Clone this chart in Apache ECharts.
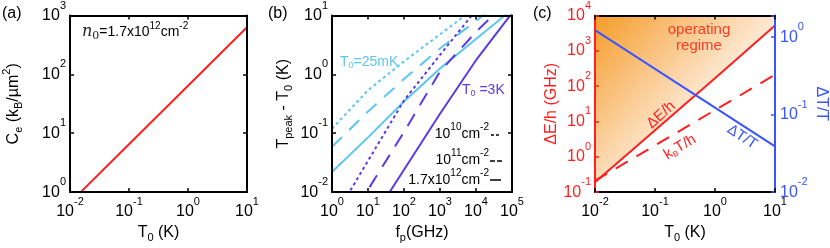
<!DOCTYPE html>
<html><head><meta charset="utf-8">
<script src="https://cdn.jsdelivr.net/npm/echarts@6/dist/echarts.min.js"></script>
<style>html,body{margin:0;padding:0;background:#fff}#c{width:830px;height:248px}</style>
</head><body><div id="c"></div>
<script>
// ---------- data ----------
// Panel (a): heat capacity vs T0
const aT  = [0.0152, 0.1, 1, 10];
const aCe = [1, 6.5, 64, 630];

// Panel (b): Tpeak - T0 vs fp
const bF = [1, 10, 100, 1000, 10000, 100000];
const b25mK_n17e12 = [0.0219, 0.0851, 0.347, 1.26, 3.98, 12.6];
const b25mK_n1e11  = [0.0589, 0.234, 0.832, 2.75, 8.13, 22.9];
const b25mK_n1e10  = [0.119, 0.537, 1.66, 4.79, 13.8, 40];
const b3K_n17e12   = [0.0003, 0.00269, 0.024, 0.214, 1.74, 11.0];
const b3K_n1e11    = [0.0011, 0.011, 0.105, 1.12, 5.25, 21];
const b3K_n1e10    = [0.0032, 0.034, 0.36, 2.14, 12.3, 40];

// Panel (c)
const cT   = [0.01, 0.1, 1, 10];
const cDE  = [0.19, 5.6, 166, 5250];
const cKT  = [0.21, 2.1, 21, 210];
const cDTT = [1.23, 0.39, 0.123, 0.039];

// ---------- styles ----------
const FONT = '"Liberation Sans", Arial, sans-serif';
const RED = '#ff1f1f', LBLUE = '#5cc6f2', PURPLE = '#5a3ce4', BLUE = '#3a55ff', BLACK = '#000';

function powLabel(v) {
  const l = Math.log10(v), e = Math.round(l);
  if (Math.abs(l - e) > 1e-6) return '';
  return '{b|10}{s|' + e + '}';
}
function tickRich(color) {
  return {
    b: {fontSize: 16, fontFamily: FONT, color: color, verticalAlign: 'middle'},
    s: {fontSize: 11, fontFamily: FONT, color: color, verticalAlign: 'middle', padding: [0, 0, 20, 0]}
  };
}
function nameRich(color) {
  return {
    n: {fontSize: 16, fontFamily: FONT, color: color, verticalAlign: 'middle'},
    sub: {fontSize: 11, fontFamily: FONT, color: color, verticalAlign: 'middle', padding: [10, 0, 0, 0]},
    sup: {fontSize: 11, fontFamily: FONT, color: color, verticalAlign: 'middle', padding: [0, 0, 14, 0]}
  };
}
function axis(kind, grid, min, max, o) {
  o = o || {};
  const color = o.color || BLACK;
  const ax = {
    type: 'log', logBase: 10, gridIndex: grid, min: min, max: max,
    position: o.position,
    axisLine: {show: true, onZero: false, lineStyle: {color: color, width: 2}},
    axisTick: {show: true, inside: true, length: 4, lineStyle: {color: color, width: 1.5}},
    axisLabel: {show: !!o.labels, formatter: powLabel, rich: tickRich(color), margin: o.margin || 4},
    splitLine: {show: false}, minorTick: {show: false}, z: 5
  };
  if (o.name) {
    ax.name = o.name; ax.nameLocation = 'middle'; ax.nameGap = o.nameGap;
    ax.nameTextStyle = {fontSize: 16, fontFamily: FONT, color: color, rich: nameRich(color)};
    if (o.nameRotate !== undefined) ax.nameRotate = o.nameRotate;
  }
  return ax;
}
const pairs = (xs, ys) => xs.map((x, i) => [x, ys[i]]);
function line(xi, yi, xs, ys, color, type, extra) {
  return Object.assign({
    type: 'line', xAxisIndex: xi, yAxisIndex: yi, data: pairs(xs, ys),
    symbol: 'none', clip: true, silent: true,
    lineStyle: {color: color, width: 2, type: type || 'solid'}
  }, extra || {});
}

const chart = echarts.init(document.getElementById('c'), null, {renderer: 'canvas'});
const DASH = [14, 10], DOT = [3, 3];

const graphics = [
    {type: 'text', left: 2, top: 6, style: {text: '(a)', fontSize: 16, fontFamily: FONT, fill: BLACK}},
    {type: 'text', left: 268, top: 6, style: {text: '(b)', fontSize: 16, fontFamily: FONT, fill: BLACK}},
    {type: 'text', left: 533, top: 6, style: {text: '(c)', fontSize: 16, fontFamily: FONT, fill: BLACK}},
    {type: 'text', x: 82, y: 32, style: {text: '{i|n}{s|0}{n|=1.7x10}{p|12}{n|cm}{p|-2}', verticalAlign: 'middle',
      rich: {
        i: {fontSize: 16, fontFamily: '"DejaVu Serif", serif', fontStyle: 'italic', fill: '#222', verticalAlign: 'middle'},
        s: {fontSize: 11, fontFamily: '"DejaVu Serif", serif', fill: '#222', verticalAlign: 'middle', padding: [8, 0, 0, 0]},
        n: {fontSize: 14, fontFamily: FONT, fill: BLACK, verticalAlign: 'middle'},
        p: {fontSize: 10, fontFamily: FONT, fill: BLACK, verticalAlign: 'middle', padding: [0, 0, 12, 0]}
      }}},
    // panel b annotations
    {type: 'text', x: 340, y: 62, style: {text: '{n|T}{s|0}{n|=25mK}', verticalAlign: 'middle',
      rich: {n: {fontSize: 14, fontFamily: FONT, fill: LBLUE, verticalAlign: 'middle'},
             s: {fontSize: 9, fontFamily: FONT, fill: LBLUE, verticalAlign: 'middle', padding: [8, 0, 0, 0]}}}},
    {type: 'text', x: 462, y: 90, style: {text: '{n|T}{s|0}{n| =3K}', verticalAlign: 'middle',
      rich: {n: {fontSize: 14, fontFamily: FONT, fill: PURPLE, verticalAlign: 'middle'},
             s: {fontSize: 9, fontFamily: FONT, fill: PURPLE, verticalAlign: 'middle', padding: [8, 0, 0, 0]}}}},
    {type: 'text', x: 489, y: 134, style: {text: '{n|10}{p|10}{n|cm}{p|-2}', align: 'right', verticalAlign: 'middle',
      rich: {n: {fontSize: 14, fontFamily: FONT, fill: BLACK, verticalAlign: 'middle'},
             p: {fontSize: 10, fontFamily: FONT, fill: BLACK, verticalAlign: 'middle', padding: [0, 0, 14, 0]}}}},
    {type: 'text', x: 489, y: 160, style: {text: '{n|10}{p|11}{n|cm}{p|-2}', align: 'right', verticalAlign: 'middle',
      rich: {n: {fontSize: 14, fontFamily: FONT, fill: BLACK, verticalAlign: 'middle'},
             p: {fontSize: 10, fontFamily: FONT, fill: BLACK, verticalAlign: 'middle', padding: [0, 0, 14, 0]}}}},
    {type: 'text', x: 489, y: 180, style: {text: '{n|1.7x10}{p|12}{n|cm}{p|-2}', align: 'right', verticalAlign: 'middle',
      rich: {n: {fontSize: 14, fontFamily: FONT, fill: BLACK, verticalAlign: 'middle'},
             p: {fontSize: 10, fontFamily: FONT, fill: BLACK, verticalAlign: 'middle', padding: [0, 0, 14, 0]}}}},
    {type: 'line', shape: {x1: 491, y1: 135, x2: 499, y2: 135}, style: {stroke: BLACK, lineWidth: 1.5, lineDash: [3, 2]}},
    {type: 'line', shape: {x1: 490, y1: 161, x2: 502, y2: 161}, style: {stroke: BLACK, lineWidth: 1.5, lineDash: [5, 2]}},
    {type: 'line', shape: {x1: 490, y1: 180, x2: 501, y2: 180}, style: {stroke: BLACK, lineWidth: 1.5}},
    // panel c annotations
    {type: 'text', x: 699, y: 30, style: {text: 'operating', align: 'center', verticalAlign: 'middle', fontSize: 15, fontFamily: FONT, fill: '#ff3b22'}},
    {type: 'text', x: 699, y: 46, style: {text: 'regime', align: 'center', verticalAlign: 'middle', fontSize: 15, fontFamily: FONT, fill: '#ff3b22'}},
    {type: 'text', x: 661, y: 115, rotation: 0.73, style: {text: 'ΔE/h', align: 'center', verticalAlign: 'middle', fontSize: 15, fontFamily: FONT, fill: RED}},
    {type: 'text', x: 680, y: 147, rotation: 0.54, style: {text: '{n|k}{s|B}{n|T/h}', align: 'center', verticalAlign: 'middle',
      rich: {n: {fontSize: 15, fontFamily: FONT, fill: RED, verticalAlign: 'middle'},
             s: {fontSize: 8, fontFamily: FONT, fill: RED, verticalAlign: 'middle', padding: [8, 0, 0, 0]}}}},
    {type: 'text', x: 742, y: 137, rotation: -0.58, style: {text: 'ΔT/T', align: 'center', verticalAlign: 'middle', fontSize: 15, fontFamily: FONT, fill: BLUE}}
];
graphics.forEach(g => { g.z = 100; });

chart.setOption({
  animation: false,
  grid: [
    {left: 67, top: 15, width: 180, height: 180},
    {left: 332, top: 15, width: 180, height: 180},
    {left: 595, top: 15, width: 181, height: 180}
  ],
  xAxis: [
    axis('x', 0, 0.01, 10, {labels: true, name: '{n|T}{sub|0}{n| (K)}', nameGap: 27}),
    axis('x', 0, 0.01, 10, {position: 'top'}),
    axis('x', 1, 1, 100000, {labels: true, name: '{n|f}{sub|p}{n|(GHz)}', nameGap: 27}),
    axis('x', 1, 1, 100000, {position: 'top'}),
    axis('x', 2, 0.01, 10, {labels: true, name: '{n|T}{sub|0}{n| (K)}', nameGap: 27}),
    axis('x', 2, 0.01, 10, {position: 'top'})
  ],
  yAxis: [
    axis('y', 0, 1, 1000, {labels: true, name: '{n|C}{sub|e}{n| (k}{sub|B}{n|/µm}{sup|2}{n|)}', nameGap: 44}),
    axis('y', 0, 1, 1000, {position: 'right'}),
    axis('y', 1, 0.01, 10, {labels: true, name: '{n|T}{sub|peak}{n| - T}{sub|0}{n| (K)}', nameGap: 38}),
    axis('y', 1, 0.01, 10, {position: 'right'}),
    axis('y', 2, 0.1, 10000, {labels: true, color: RED, name: '{n|ΔE/h (GHz)}', nameGap: 33}),
    axis('y', 2, 0.01, 1.9, {labels: true, color: BLUE, position: 'right', margin: 5,
         name: '{n|ΔT/T}', nameGap: 38, nameRotate: -90})
  ],
  series: [
    line(0, 0, aT, aCe, RED),
    // panel b
    line(2, 2, bF, b25mK_n1e10, LBLUE, DOT),
    line(2, 2, bF, b25mK_n1e11, LBLUE, DASH),
    line(2, 2, bF, b25mK_n17e12, LBLUE),
    line(2, 2, bF, b3K_n1e10, PURPLE, DOT),
    line(2, 2, bF, b3K_n1e11, PURPLE, DASH),
    line(2, 2, bF, b3K_n17e12, PURPLE),
    // panel c
    line(4, 4, cT, cDE, RED, 'solid', {
      areaStyle: {origin: 'end', opacity: 1,
        color: new echarts.graphic.LinearGradient(0, 0, 1, 1, [
          {offset: 0, color: '#f59c26'},
          {offset: 0.25, color: '#f9be76'},
          {offset: 0.5, color: '#fde2c4'},
          {offset: 0.75, color: '#ffffff'}
        ])}
    }),
    line(4, 4, cT, cKT, RED, [14, 10]),
    line(4, 5, cT, cDTT, BLUE)
  ],
  graphic: graphics
});
</script>
</body></html>
